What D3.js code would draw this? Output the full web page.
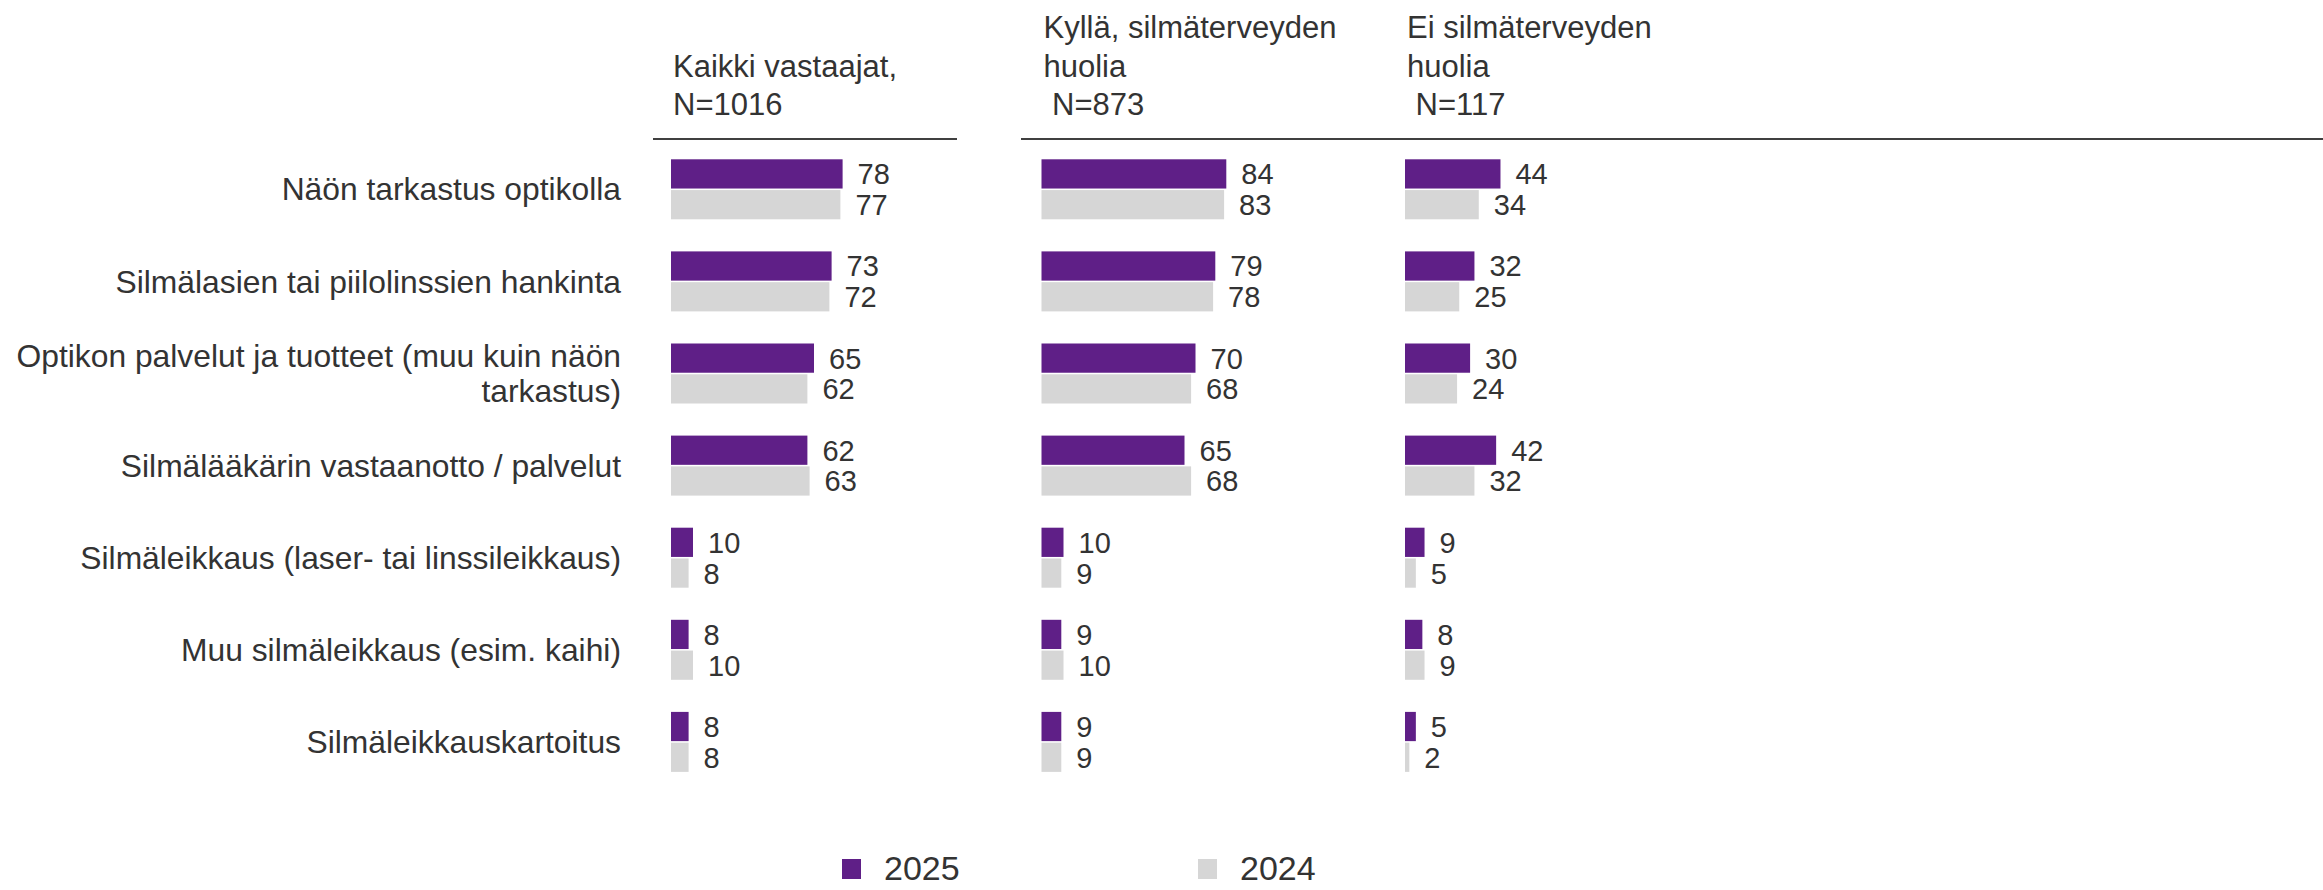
<!DOCTYPE html>
<html>
<head>
<meta charset="utf-8">
<script src="https://cdnjs.cloudflare.com/ajax/libs/d3/7.8.5/d3.min.js"></script>
<style>
  body { margin: 0; background: #fff; }
  text { font-family: Arial, "Liberation Sans", sans-serif; fill: #333; white-space: pre; }
</style>
</head>
<body>
<div id="chart"></div>
<script>
var categories = [
  ["Näön tarkastus optikolla"],
  ["Silmälasien tai piilolinssien hankinta"],
  ["Optikon palvelut ja tuotteet (muu kuin näön", "tarkastus)"],
  ["Silmälääkärin vastaanotto / palvelut"],
  ["Silmäleikkaus (laser- tai linssileikkaus)"],
  ["Muu silmäleikkaus (esim. kaihi)"],
  ["Silmäleikkauskartoitus"]
];
var years = ["2025", "2024"];
var colors = ["#5f1f87", "#d6d6d6"];

var panelTitles = [
  ["", "Kaikki vastaajat,", "N=1016"],
  ["Kyllä, silmäterveyden", "huolia", " N=873"],
  ["Ei silmäterveyden", "huolia", " N=117"]
];

// values per panel: [2025, 2024]
var allValues2025 = [78, 73, 65, 62, 10, 8, 8];
var allValues2024 = [77, 72, 62, 63, 8, 10, 8];
var yesValues2025 = [84, 79, 70, 65, 10, 9, 9];
var yesValues2024 = [83, 78, 68, 68, 9, 10, 9];
var noValues2025 = [44, 32, 30, 42, 9, 8, 5];
var noValues2024 = [34, 25, 24, 32, 5, 9, 2];

var panels = [
  { v2025: allValues2025, v2024: allValues2024, x0: 671, w: 220 },
  { v2025: yesValues2025, v2024: yesValues2024, x0: 1041.5, w: 220 },
  { v2025: noValues2025, v2024: noValues2024, x0: 1405, w: 217 }
];

var W = 2323, H = 890;

var svg = d3.select("#chart").append("svg")
  .attr("width", W)
  .attr("height", H);

var step = 92.1, groupH = 60, pad = 1 - groupH / step;
var y = d3.scaleBand()
  .domain(d3.range(categories.length))
  .range([159.3, 159.3 + (categories.length - pad) * step])
  .paddingInner(pad)
  .paddingOuter(0);

var ySub = d3.scaleBand()
  .domain(years)
  .range([0, y.bandwidth()])
  .paddingInner(0.05);

// category labels
var lbl = svg.append("g").selectAll("text")
  .data(categories)
  .enter().append("text")
  .attr("text-anchor", "end")
  .attr("font-size", 31.8)
  .attr("x", 621)
  .attr("y", function(d, i) { return y(i) + y.bandwidth() / 2; });

lbl.selectAll("tspan")
  .data(function(d) { return d.map(function(t, j) { return { t: t, j: j, n: d.length }; }); })
  .enter().append("tspan")
  .attr("x", 621)
  .attr("dy", function(d) {
    if (d.j == 0) return (0.35 - (d.n - 1) * 0.56) + "em";
    return "1.12em";
  })
  .text(function(d) { return d.t; });

// header lines
svg.append("line")
  .attr("x1", 653).attr("x2", 957)
  .attr("y1", 139).attr("y2", 139)
  .attr("stroke", "#404040").attr("stroke-width", 2);
svg.append("line")
  .attr("x1", 1021).attr("x2", W)
  .attr("y1", 139).attr("y2", 139)
  .attr("stroke", "#404040").attr("stroke-width", 2);

var titleY = [37.5, 77, 115];

panels.forEach(function(p, k) {
  var x = d3.scaleLinear()
    .domain([0, 100])
    .range([p.x0, p.x0 + p.w]);

  var g = svg.append("g");

  // title
  g.selectAll(".title")
    .data(panelTitles[k])
    .enter().append("text")
    .attr("class", "title")
    .attr("font-size", 31)
    .attr("x", p.x0 + 2)
    .attr("y", function(d, i) { return titleY[i]; })
    .text(function(d) { return d; });

  var rows = g.selectAll(".row")
    .data(categories.map(function(c, i) {
      return [{ year: "2025", v: p.v2025[i], i: i }, { year: "2024", v: p.v2024[i], i: i }];
    }))
    .enter().append("g")
    .attr("class", "row")
    .attr("transform", function(d, i) { return "translate(0," + y(i) + ")"; });

  rows.selectAll("rect")
    .data(function(d) { return d; })
    .enter().append("rect")
    .attr("x", x(0))
    .attr("y", function(d) { return ySub(d.year); })
    .attr("width", function(d) { return x(d.v) - x(0); })
    .attr("height", ySub.bandwidth())
    .attr("fill", function(d) { return colors[years.indexOf(d.year)]; });

  rows.selectAll(".val")
    .data(function(d) { return d; })
    .enter().append("text")
    .attr("class", "val")
    .attr("font-size", 29)
    .attr("x", function(d) { return x(d.v) + 15; })
    .attr("y", function(d) { return ySub(d.year) + ySub.bandwidth() / 2; })
    .attr("dy", "0.36em")
    .text(function(d) { return d.v; });
});

// legend (kept a bit above the bottom edge so the text is not clipped)
var legX = [842, 1198];
var leg = svg.append("g").selectAll("g")
  .data(years)
  .enter().append("g")
  .attr("transform", function(d, i) { return "translate(" + legX[i] + ",0)"; });

leg.append("rect")
  .attr("x", 0).attr("y", 859)
  .attr("width", 19).attr("height", 20)
  .attr("fill", function(d, i) { return colors[i]; });

leg.append("text")
  .attr("x", 42).attr("y", 880)
  .attr("font-size", 34)
  .text(function(d) { return d; });
</script>
</body>
</html>
